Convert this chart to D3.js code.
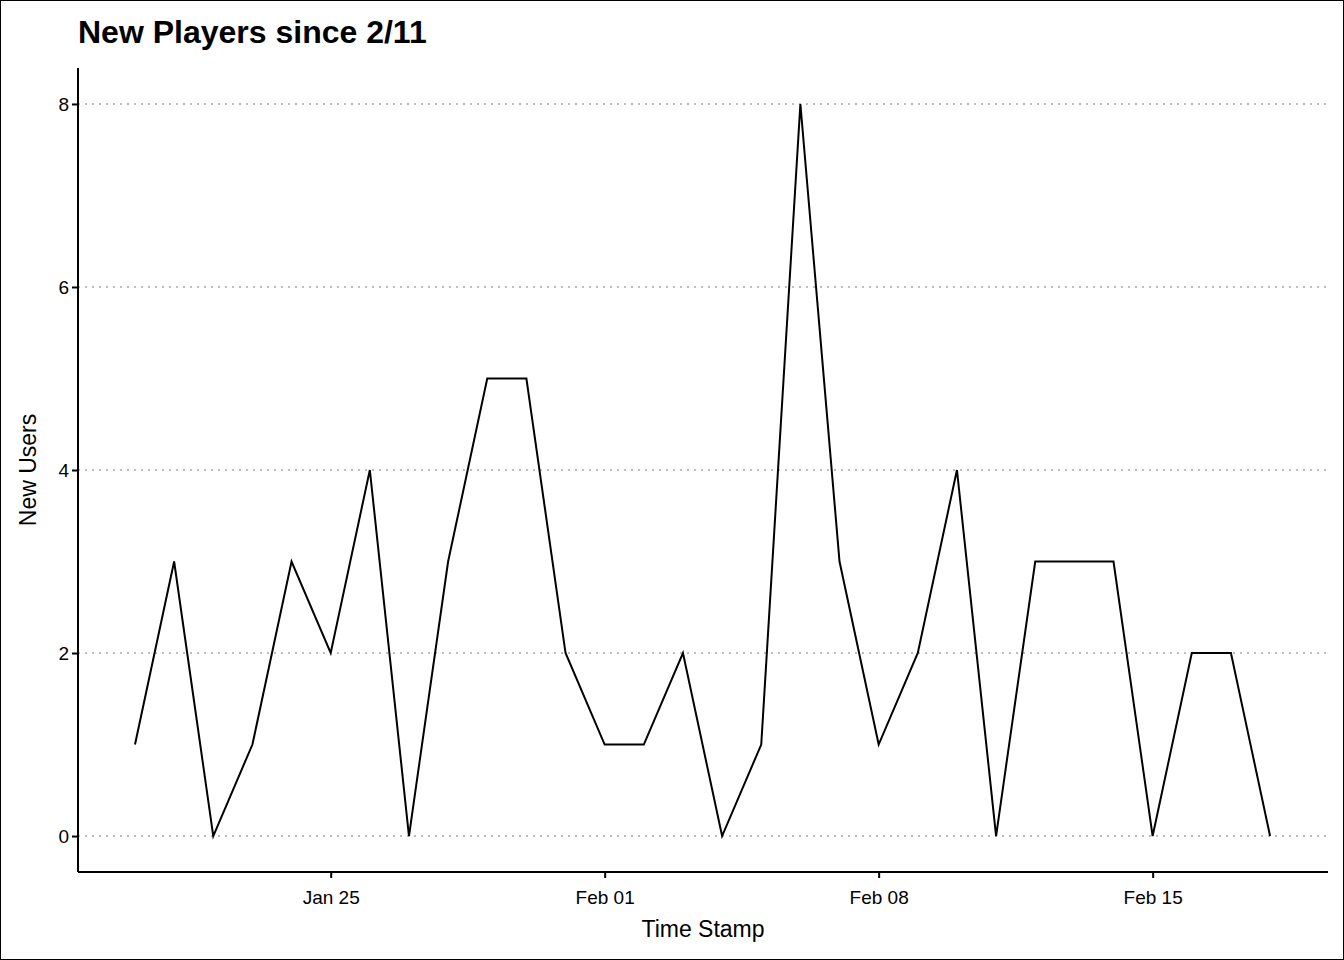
<!DOCTYPE html>
<html><head><meta charset="utf-8">
<script src="https://cdn.jsdelivr.net/npm/d3@7"></script>
<style>body{margin:0;background:#fff}svg{display:block;font-family:"Liberation Sans",Arial,sans-serif}</style>
</head><body><svg id="c" width="1344" height="960"></svg>
<script>
const startDate = "2021-01-20";
const values = [1,3,0,1,3,2,4,0,3,5,5,2,1,1,2,0,1,8,3,1,2,4,0,3,3,3,0,2,2,0];
const yTicks = [0,2,4,6,8];
const xTickDates = ["2021-01-25","2021-02-01","2021-02-08","2021-02-15"];

const day = 864e5;
const t0 = Date.parse(startDate+"T00:00:00Z");
const data = values.map((v,i)=>({d:new Date(t0+i*day), v}));
const svg = d3.select("#c");
svg.append("rect").attr("x",0.5).attr("y",0.5).attr("width",1343).attr("height",959).attr("fill","#fff").attr("stroke","#000");
const L=78,R=1328,T=68,B=872;
const x = d3.scaleUtc().domain([new Date(t0-1.456*day), new Date(t0+(29+1.48)*day)]).range([L,R]);
const y = d3.scaleLinear().domain([-0.393,8.393]).range([B,T]);

svg.append("g").selectAll("line").data(yTicks).join("line")
 .attr("x1",L).attr("x2",R).attr("y1",d=>y(d)).attr("y2",d=>y(d))
 .attr("stroke","#bdbdbd").attr("stroke-width",2).attr("stroke-dasharray","2,5");

svg.append("path").datum(data).attr("fill","none").attr("stroke","#000").attr("stroke-width",2)
 .attr("d",d3.line().x(d=>x(d.d)).y(d=>y(d.v)));

const xa = svg.append("g").attr("transform",`translate(0,${B})`)
 .call(d3.axisBottom(x).tickValues(xTickDates.map(s=>new Date(s+"T00:00:00Z"))).tickFormat(d3.utcFormat("%b %d")).tickSizeOuter(0).tickSize(6));
const ya = svg.append("g").attr("transform",`translate(${L},0)`)
 .call(d3.axisLeft(y).tickValues(yTicks).tickSizeOuter(0).tickSize(6));
[xa,ya].forEach(a=>{a.select(".domain").attr("stroke","#000").attr("stroke-width",2);
 a.selectAll(".tick line").attr("stroke","#000").attr("stroke-width",2);
 a.selectAll("text").attr("font-size",19).attr("fill","#000").attr("font-family","Liberation Sans, Arial, sans-serif");});
ya.select(".domain").attr("d",`M0,${T}V${B}`);
xa.select(".domain").attr("d",`M${L},0H${R}`);
xa.selectAll("text").attr("dy","1.2em");

svg.append("text").attr("x",78).attr("y",43).attr("font-size",32).attr("font-weight","bold").text("New Players since 2/11");
svg.append("text").attr("x",703).attr("y",937).attr("text-anchor","middle").attr("font-size",23).text("Time Stamp");
svg.append("text").attr("transform","translate(36,470) rotate(-90)").attr("text-anchor","middle").attr("font-size",23).text("New Users");
</script></body></html>
